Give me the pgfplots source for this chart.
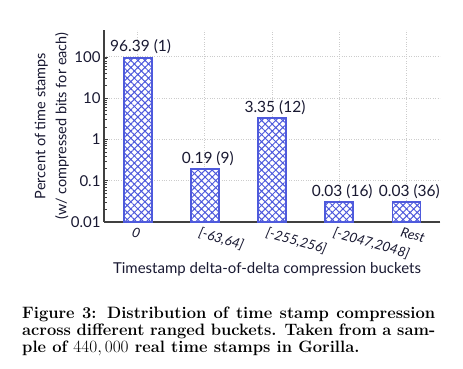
\documentclass[border=0pt]{standalone}
\usepackage{pgfplots}
\pgfplotsset{compat=1.18}
\usepackage{fontspec}
\newfontfamily\chartfont{Lato}
\usetikzlibrary{patterns.meta}
\definecolor{barblue}{RGB}{78,90,220}
\definecolor{txt}{RGB}{25,25,50}
\begin{document}
\begin{tikzpicture}
\path[use as bounding box, fill=white] (0,0) rectangle (463pt,-368pt);
\begin{axis}[
  at={(104pt,-222pt)}, anchor=south west,
  scale only axis, width=336pt, height=192pt,
  ymode=log, log origin=infty,
  ymin=0.01, ymax=450,
  xmin=-0.5, xmax=4.5,
  axis lines*=left,
  axis line style={draw=black!75, line width=1.3pt},
  xmajorgrids, ymajorgrids,
  grid style={dotted, black!20, line width=1pt},
  tick align=inside,
  ytick={0.01,0.1,1,10,100},
  yticklabels={0.01,0.1,1,10,100},
  xtick={0,1,2,3,4},
  xticklabels={0,{[-63,64]},{[-255,256]},{[-2047,2048]},Rest},
  major x tick style={draw=none},
  y tick style={black!75, line width=0.8pt},
  yticklabel style={font=\chartfont\fontsize{15}{15}\selectfont, text=txt},
  xticklabel style={rotate=-16, anchor=north west, xshift=-7pt, yshift=2pt, font=\chartfont\itshape\fontsize{13.5}{13.5}\selectfont, text=txt},
  xlabel={Timestamp delta-of-delta compression buckets},
  xlabel style={at={(axis description cs:0.485,-0.245)}, anchor=center, font=\chartfont\fontsize{15}{15}\selectfont, text=txt},
  ylabel={Percent of time stamps\\(w/ compressed bits for each)},
  ylabel style={at={(axis description cs:-0.155,0.5)}, anchor=center, align=center, font=\chartfont\fontsize{14.5}{21}\selectfont, text=txt},
  ybar, bar width=28pt,
  nodes near coords,
  point meta=explicit symbolic,
  every node near coord/.append style={font=\chartfont\fontsize{15.5}{15.5}\selectfont, text=txt, inner sep=2.5pt, xshift=3pt},
  clip=false,
]
\addplot[draw=barblue, line width=1.8pt, fill=white,
  postaction={pattern={Hatch[angle=45,distance=5pt,line width=1pt]}, pattern color=barblue}]
  coordinates {
  (0,96.39) [96.39 (1)]
  (1,0.19) [0.19 (9)]
  (2,3.35) [3.35 (12)]
  (3,0.03) [0.03 (16)]
  (4,0.03) [0.03 (36)]
};
\end{axis}
\begin{scope}[every node/.style={anchor=base west, inner sep=0pt, font=\fontsize{16.5}{17}\selectfont\bfseries}]
\node at (22pt,-318pt) {\makebox[413pt][s]{Figure 3: Distribution of time stamp compression}};
\node at (22pt,-335pt) {\makebox[413pt][s]{across different ranged buckets. Taken from a sam-}};
\node at (22pt,-352pt) {ple of $440,000$ real time stamps in Gorilla.};
\end{scope}
\end{tikzpicture}
\end{document}
